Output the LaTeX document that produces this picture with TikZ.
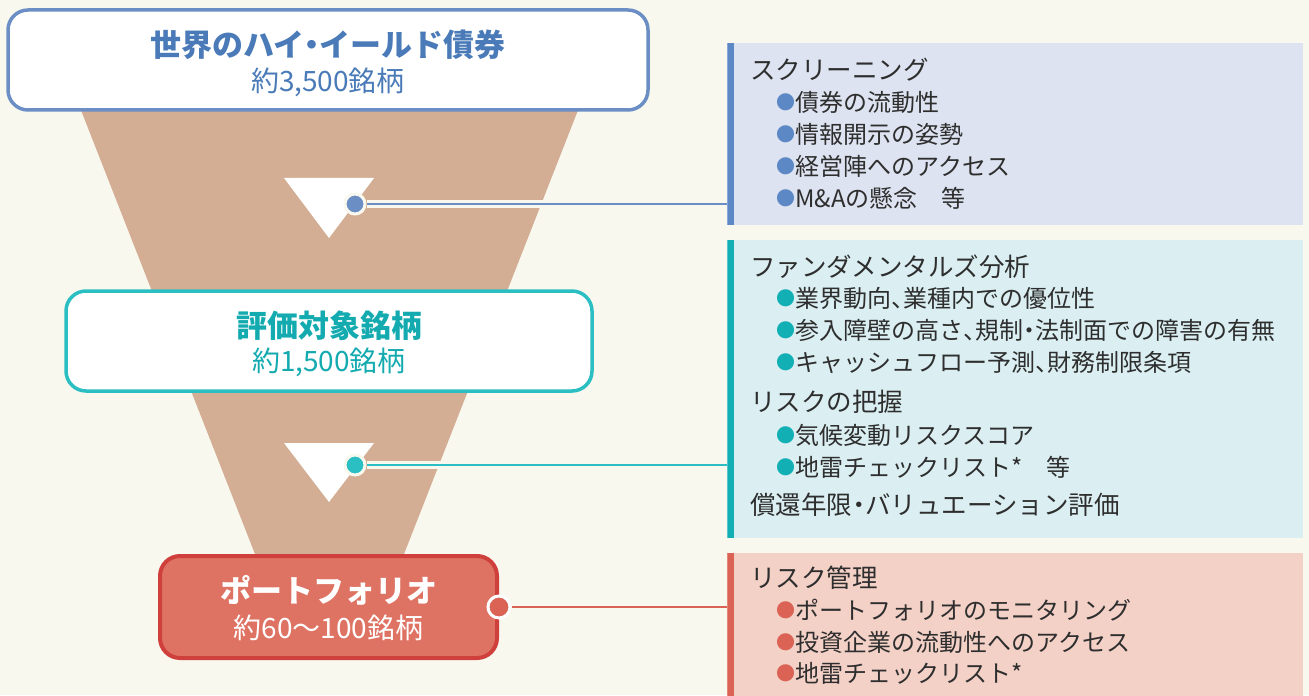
\documentclass[tikz,border=0pt]{standalone}
\usepackage{fontspec}
\setmainfont{Noto Sans CJK JP}
\usetikzlibrary{positioning}

\definecolor{bg}{HTML}{F9F8EF}
\definecolor{funnel}{HTML}{D3AE94}
\definecolor{txt}{HTML}{2E2E2E}
\definecolor{blu}{HTML}{6B8FC4}
\definecolor{blutxt}{HTML}{4A7BB8}
\definecolor{blubar}{HTML}{5C88C6}
\definecolor{blupanel}{HTML}{DDE3F0}
\definecolor{teal}{HTML}{2BBEC2}
\definecolor{tealtxt}{HTML}{13AAB0}
\definecolor{tealbar}{HTML}{12AFB5}
\definecolor{tealpanel}{HTML}{DBEFF2}
\definecolor{redfill}{HTML}{DF7363}
\definecolor{redline}{HTML}{CF3F3C}
\definecolor{redbar}{HTML}{DA6355}
\definecolor{redpanel}{HTML}{F3D1C7}

\newcommand{\boxtitle}{\fontsize{15.5}{18}\selectfont\bfseries}
\newcommand{\boxcount}{\fontsize{14}{16}\selectfont}
\newcommand{\headfont}{\fontsize{12.75}{15}\selectfont}
\newcommand{\itemfont}{\fontsize{12}{15}\selectfont}
\newcommand{\blt}[1]{\raisebox{.08em}{\fontsize{9.5}{10}\selectfont\textcolor{#1}{●}}}
\newcommand{\ten}{\makebox[.5em][l]{、}}
\newcommand{\nak}{\makebox[.5em][c]{・}}

\begin{document}
\begin{tikzpicture}[x=0.5pt,y=-0.5pt,
  every node/.style={inner sep=0pt},
  stagebox/.style={rounded corners=10pt,line width=1.75pt,minimum height=50pt},
  panel/.style 2 args={anchor=north west,fill=#1,minimum width=288pt,
    path picture={\fill[#2] (path picture bounding box.north west)
      rectangle ([xshift=3.5pt]path picture bounding box.south west);}},
  head/.style={anchor=west,text=txt,font=\headfont},
  item/.style={anchor=west,text=txt,font=\itemfont},
  dot/.style={circle,minimum size=10pt,line width=1.5pt}]

  \fill[bg] (0,0) rectangle (1309,695);
  \useasboundingbox (0,0) rectangle (1309,695);

  % funnel and arrows
  \fill[funnel] (77,100) -- (582,100) -- (386,600) -- (273,600) -- cycle;
  \fill[white] (284,178) -- (374,178) -- (329,238) -- cycle;
  \fill[white] (284,443) -- (374,443) -- (329,502) -- cycle;

  % stages
  \node[stagebox,draw=blu,fill=white,minimum width=320pt] (world) at (328,60) {};
  \node[font=\boxtitle,text=blutxt] at (328,45) {世界のハイ\nak イールド債券};
  \node[font=\boxcount,text=blutxt] at (328,82) {約3,500銘柄};

  \node[stagebox,draw=teal,fill=white,minimum width=263pt] (eval) at (329,341) {};
  \node[font=\boxtitle,text=tealtxt] at (329,326) {評価対象銘柄};
  \node[font=\boxcount,text=tealtxt] at (329,362) {約1,500銘柄};

  \node[stagebox,draw=redline,fill=redfill,line width=2pt,minimum width=168.5pt,
    minimum height=51pt] (pf) at (328.5,607) {};
  \node[font=\boxtitle,text=white] at (328.5,590) {ポートフォリオ};
  \node[font=\boxcount,text=white] at (328.5,628) {約60〜100銘柄};

  % panels
  \node[panel={blupanel}{blubar},minimum height=91pt] (scr) at (727,43) {};
  \node[panel={tealpanel}{tealbar},minimum height=149pt] (fund) at (727,240) {};
  \node[panel={redpanel}{redbar},minimum height=75pt] (risk) at (727,553) {};

  \node[head] at (750,70) {スクリーニング};
  \node[item] at (776,102) {\blt{blubar}債券の流動性};
  \node[item] at (776,134) {\blt{blubar}情報開示の姿勢};
  \node[item] at (776,166) {\blt{blubar}経営陣へのアクセス};
  \node[item] at (776,198) {\blt{blubar}M\&Aの懸念　等};

  \node[head] at (750,267) {ファンダメンタルズ分析};
  \node[item] at (776,298) {\blt{tealbar}業界動向\ten 業種内での優位性};
  \node[item] at (776,330) {\blt{tealbar}参入障壁の高さ\ten 規制\nak 法制面での障害の有無};
  \node[item] at (776,362) {\blt{tealbar}キャッシュフロー予測\ten 財務制限条項};
  \node[head] at (750,402) {リスクの把握};
  \node[item] at (776,435) {\blt{tealbar}気候変動リスクスコア};
  \node[item] at (776,467) {\blt{tealbar}地雷チェックリスト*　等};
  \node[head] at (750,505) {償還年限\nak バリュエーション評価};

  \node[head] at (750,578) {リスク管理};
  \node[item] at (776,610) {\blt{redbar}ポートフォリオのモニタリング};
  \node[item] at (776,642) {\blt{redbar}投資企業の流動性へのアクセス};
  \node[item] at (776,673) {\blt{redbar}地雷チェックリスト*};

  % connectors
  \node[dot,fill=blu,draw=bg] (d1) at (355,204) {};
  \node[dot,fill=teal,draw=bg] (d2) at (355,465) {};
  \node[dot,fill=redbar,draw=white,minimum size=11pt] (d3) at (pf.east) {};

  \draw[bg,line width=4pt] (d1) -- (d1 -| scr.west);
  \draw[bg,line width=4pt] (d2) -- (d2 -| fund.west);
  \draw[blu,line width=1.25pt] (d1) -- (d1 -| scr.west);
  \draw[teal,line width=1.25pt] (d2) -- (d2 -| fund.west);
  \draw[redbar,line width=1.25pt] (d3) -- (d3 -| risk.west);
\end{tikzpicture}
\end{document}
